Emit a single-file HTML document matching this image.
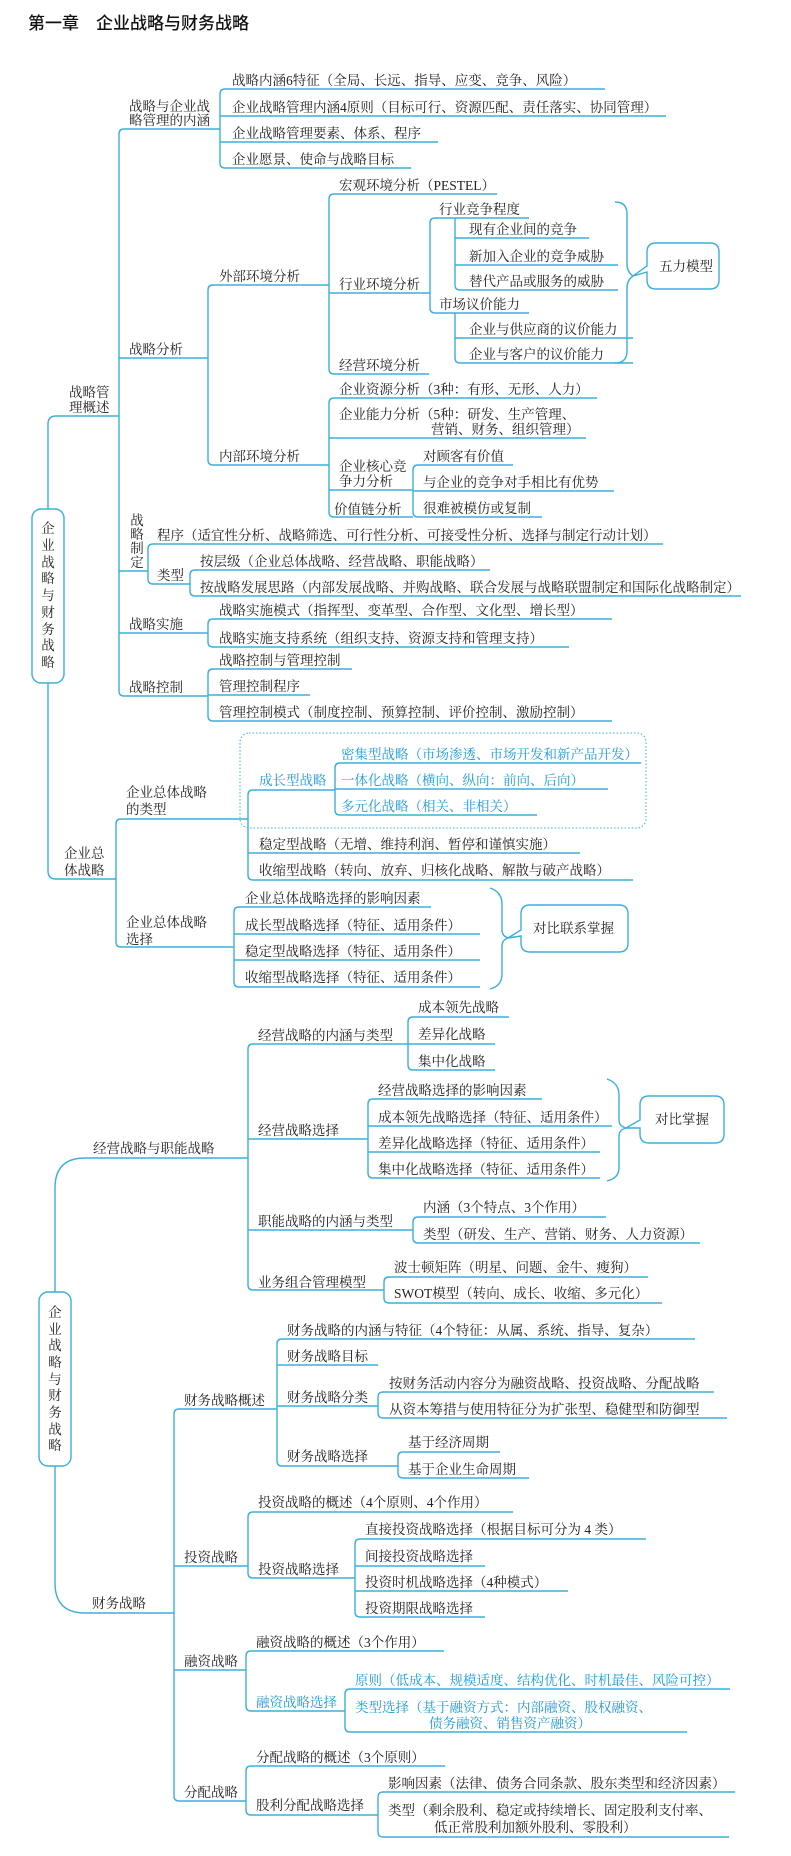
<!DOCTYPE html>
<html><head><meta charset="utf-8">
<style>
html,body{margin:0;padding:0;background:#fff;}
svg{display:block;}
text{font-family:"Liberation Serif","Noto Serif CJK SC",serif;font-size:13.5px;fill:#222;}
.b{fill:#1c9ad6;}
.t{font-family:"Liberation Sans","Noto Sans CJK SC",sans-serif;font-size:17px;font-weight:500;fill:#111;}
path,line{stroke:#3bb0da;stroke-width:1.4;fill:none;}
</style></head><body>
<svg width="791" height="1856" viewBox="0 0 791 1856" xmlns="http://www.w3.org/2000/svg">
<text class="t" x="28" y="29">第一章　企业战略与财务战略</text>

<!-- Root box 1 -->
<rect x="32" y="509" width="32" height="174" rx="9" fill="none" stroke="#3bb0da" stroke-width="1.4"/>
<g text-anchor="middle">
<text x="48" y="533">企</text><text x="48" y="550">业</text><text x="48" y="567">战</text><text x="48" y="583">略</text><text x="48" y="600">与</text><text x="48" y="617">财</text><text x="48" y="634">务</text><text x="48" y="650">战</text><text x="48" y="667">略</text>
</g>
<path d="M48,509 V424 Q48,416 56,416 H119"/>
<path d="M48,683 V871 Q48,879 56,879 H116"/>
<text x="69" y="397">战略管</text><text x="69" y="412">理概述</text>

<!-- main bracket B -->
<path d="M124,129 Q119,129 119,134 V691 Q119,696 124,696"/>
<line x1="119" y1="358" x2="208" y2="358"/><line x1="119" y1="571" x2="148" y2="571"/><line x1="119" y1="633" x2="208" y2="633"/>
<line x1="124" y1="129" x2="220" y2="129"/><line x1="124" y1="696" x2="208" y2="696"/>
<text x="129" y="111">战略与企业战</text><text x="129" y="125">略管理的内涵</text>

<!-- A -->
<path d="M225,89 Q220,89 220,94 V163 Q220,168 225,168"/>
<line x1="225" y1="89" x2="605" y2="89"/><line x1="220" y1="116" x2="666" y2="116"/><line x1="220" y1="142" x2="438" y2="142"/><line x1="225" y1="168" x2="411" y2="168"/>
<text x="232" y="85">战略内涵6特征（全局、长远、指导、应变、竞争、风险）</text>
<text x="232" y="112">企业战略管理内涵4原则（目标可行、资源匹配、责任落实、协同管理）</text>
<text x="232" y="138">企业战略管理要素、体系、程序</text>
<text x="232" y="164">企业愿景、使命与战略目标</text>

<!-- 战略分析 -->
<text x="129" y="354">战略分析</text>
<path d="M213,285 Q208,285 208,290 V460 Q208,465 213,465"/>
<line x1="213" y1="285" x2="329" y2="285"/><line x1="213" y1="465" x2="329" y2="465"/>
<text x="219" y="281">外部环境分析</text>
<text x="219" y="461">内部环境分析</text>

<!-- D -->
<path d="M334,194 Q329,194 329,199 V369 Q329,374 334,374"/>
<line x1="334" y1="194" x2="497" y2="194"/><line x1="329" y1="293" x2="430" y2="293"/><line x1="334" y1="374" x2="429" y2="374"/>
<text x="339" y="190">宏观环境分析（PESTEL）</text>
<text x="339" y="289">行业环境分析</text>
<text x="339" y="370">经营环境分析</text>

<!-- E -->
<path d="M435,218 Q430,218 430,223 V308 Q430,313 435,313"/>
<line x1="435" y1="218" x2="529" y2="218"/><line x1="435" y1="313" x2="529" y2="313"/>
<text x="439" y="214">行业竞争程度</text>
<text x="439" y="309">市场议价能力</text>
<path d="M455,218 V285 Q455,290 460,290"/>
<path d="M455,238 Q455,238 455,238"/>
<line x1="455" y1="238" x2="589" y2="238"/><line x1="455" y1="265" x2="618" y2="265"/><line x1="460" y1="290" x2="618" y2="290"/>
<text x="469" y="234">现有企业间的竞争</text>
<text x="469" y="261">新加入企业的竞争威胁</text>
<text x="469" y="286">替代产品或服务的威胁</text>
<path d="M455,313 V358 Q455,363 460,363"/>
<line x1="455" y1="338" x2="633" y2="338"/><line x1="460" y1="363" x2="633" y2="363"/>
<text x="469" y="334">企业与供应商的议价能力</text>
<text x="469" y="359">企业与客户的议价能力</text>
<!-- brace 1 -->
<path d="M615,202 Q627,202 627,214 V264 Q627,272 633,276 Q627,280 627,288 V351 Q627,363 615,363"/>
<path d="M633,276 L647,266 V252 Q647,243 656,243 H710 Q719,243 719,252 V280 Q719,289 710,289 H656 Q647,289 647,280 V272 Z"/>
<text x="659" y="271">五力模型</text>

<!-- G -->
<path d="M334,398 Q329,398 329,403 V512 Q329,517 334,517"/>
<line x1="334" y1="398" x2="597" y2="398"/><line x1="329" y1="438" x2="586" y2="438"/><line x1="329" y1="490" x2="413" y2="490"/><line x1="334" y1="517" x2="413" y2="517"/>
<text x="339" y="394">企业资源分析（3种：有形、无形、人力）</text>
<text x="339" y="419">企业能力分析（5种：研发、生产管理、</text>
<text x="431" y="434">营销、财务、组织管理）</text>
<text x="339" y="471">企业核心竞</text><text x="339" y="486">争力分析</text>
<text x="334" y="514">价值链分析</text>
<path d="M418,465 Q413,465 413,470 V512 Q413,517 418,517"/>
<line x1="418" y1="465" x2="513" y2="465"/><line x1="413" y1="491" x2="614" y2="491"/><line x1="418" y1="517" x2="542" y2="517"/>
<text x="423" y="461">对顾客有价值</text>
<text x="423" y="487">与企业的竞争对手相比有优势</text>
<text x="423" y="513">很难被模仿或复制</text>

<!-- 战略制定 -->
<g text-anchor="middle"><text x="137" y="525">战</text><text x="137" y="539">略</text><text x="137" y="553">制</text><text x="137" y="567">定</text></g>
<path d="M153,544 Q148,544 148,549 V579 Q148,584 153,584"/>
<line x1="153" y1="544" x2="663" y2="544"/><line x1="153" y1="584" x2="190" y2="584"/>
<text x="157" y="540">程序（适宜性分析、战略筛选、可行性分析、可接受性分析、选择与制定行动计划）</text>
<text x="157" y="580">类型</text>
<path d="M195,570 Q190,570 190,575 V591 Q190,596 195,596"/>
<line x1="195" y1="570" x2="490" y2="570"/><line x1="195" y1="596" x2="741" y2="596"/>
<text x="200" y="566">按层级（企业总体战略、经营战略、职能战略）</text>
<text x="200" y="592">按战略发展思路（内部发展战略、并购战略、联合发展与战略联盟制定和国际化战略制定）</text>

<!-- 战略实施 -->
<text x="129" y="629">战略实施</text>
<path d="M213,619 Q208,619 208,624 V642 Q208,647 213,647"/>
<line x1="213" y1="619" x2="612" y2="619"/><line x1="213" y1="647" x2="569" y2="647"/>
<text x="219" y="615">战略实施模式（指挥型、变革型、合作型、文化型、增长型）</text>
<text x="219" y="643">战略实施支持系统（组织支持、资源支持和管理支持）</text>

<!-- 战略控制 -->
<text x="129" y="692">战略控制</text>
<path d="M213,669 Q208,669 208,674 V716 Q208,721 213,721"/>
<line x1="213" y1="669" x2="352" y2="669"/><line x1="208" y1="695" x2="310" y2="695"/><line x1="213" y1="721" x2="612" y2="721"/>
<text x="219" y="665">战略控制与管理控制</text>
<text x="219" y="691">管理控制程序</text>
<text x="219" y="717">管理控制模式（制度控制、预算控制、评价控制、激励控制）</text>

<!-- 企业总体战略 -->
<text x="64" y="858">企业总</text><text x="64" y="875">体战略</text>
<path d="M121,819 Q116,819 116,824 V942 Q116,947 121,947"/>
<line x1="121" y1="819" x2="248" y2="819"/><line x1="121" y1="947" x2="234" y2="947"/>
<text x="126" y="797">企业总体战略</text><text x="126" y="814">的类型</text>
<text x="126" y="927">企业总体战略</text><text x="126" y="944">选择</text>
<rect x="240" y="733" width="406" height="95" rx="9" fill="none" stroke="#3bb0da" stroke-width="1" stroke-dasharray="1.5,2"/>
<path d="M253,790 Q248,790 248,795 V875 Q248,880 253,880"/>
<line x1="253" y1="790" x2="335" y2="790"/><line x1="248" y1="853" x2="580" y2="853"/><line x1="253" y1="880" x2="633" y2="880"/>
<text class="b" x="259" y="785">成长型战略</text>
<text x="259" y="849">稳定型战略（无增、维持利润、暂停和谨慎实施）</text>
<text x="259" y="875">收缩型战略（转向、放弃、归核化战略、解散与破产战略）</text>
<path d="M340,763 Q335,763 335,768 V810 Q335,815 340,815"/>
<line x1="340" y1="763" x2="641" y2="763"/><line x1="335" y1="789" x2="608" y2="789"/><line x1="340" y1="815" x2="537" y2="815"/>
<text class="b" x="341" y="759">密集型战略（市场渗透、市场开发和新产品开发）</text>
<text class="b" x="341" y="785">一体化战略（横向、纵向：前向、后向）</text>
<text class="b" x="341" y="811">多元化战略（相关、非相关）</text>
<path d="M239,907 Q234,907 234,912 V982 Q234,987 239,987"/>
<line x1="239" y1="907" x2="431" y2="907"/><line x1="234" y1="934" x2="480" y2="934"/><line x1="234" y1="960" x2="480" y2="960"/><line x1="239" y1="987" x2="480" y2="987"/>
<text x="245" y="903">企业总体战略选择的影响因素</text>
<text x="245" y="930">成长型战略选择（特征、适用条件）</text>
<text x="245" y="956">稳定型战略选择（特征、适用条件）</text>
<text x="245" y="982">收缩型战略选择（特征、适用条件）</text>
<path d="M490,888 Q502,892 502,904 V930 Q502,936 508,938 Q502,940 502,946 V974 Q502,986 490,989"/>
<path d="M508,938 L521,930 V914 Q521,905 530,905 H619 Q628,905 628,914 V943 Q628,952 619,952 H530 Q521,952 521,943 V936 Z"/>
<text x="533" y="933">对比联系掌握</text>

<!-- Root box 2 -->
<rect x="39" y="1292" width="32" height="174" rx="9" fill="none" stroke="#3bb0da" stroke-width="1.4"/>
<g text-anchor="middle">
<text x="55" y="1317">企</text><text x="55" y="1334">业</text><text x="55" y="1350">战</text><text x="55" y="1367">略</text><text x="55" y="1384">与</text><text x="55" y="1400">财</text><text x="55" y="1417">务</text><text x="55" y="1434">战</text><text x="55" y="1450">略</text>
</g>
<path d="M55,1292 V1188 Q55,1158 85,1158 H248"/>
<path d="M55,1466 V1583 Q55,1613 85,1613 H174"/>
<text x="93" y="1153">经营战略与职能战略</text>
<text x="92" y="1608">财务战略</text>

<!-- Q -->
<path d="M253,1044 Q248,1044 248,1049 V1285 Q248,1290 253,1290"/>
<line x1="253" y1="1044" x2="408" y2="1044"/><line x1="248" y1="1139" x2="368" y2="1139"/><line x1="248" y1="1230" x2="413" y2="1230"/><line x1="253" y1="1290" x2="384" y2="1290"/>
<text x="258" y="1040">经营战略的内涵与类型</text>
<text x="258" y="1135">经营战略选择</text>
<text x="258" y="1226">职能战略的内涵与类型</text>
<text x="258" y="1287">业务组合管理模型</text>
<path d="M413,1017 Q408,1017 408,1022 V1065 Q408,1070 413,1070"/>
<line x1="413" y1="1017" x2="509" y2="1017"/><line x1="408" y1="1044" x2="495" y2="1044"/><line x1="413" y1="1070" x2="495" y2="1070"/>
<text x="418" y="1012">成本领先战略</text>
<text x="418" y="1039">差异化战略</text>
<text x="418" y="1066">集中化战略</text>
<path d="M373,1099 Q368,1099 368,1104 V1173 Q368,1178 373,1178"/>
<line x1="373" y1="1099" x2="542" y2="1099"/><line x1="368" y1="1126" x2="612" y2="1126"/><line x1="368" y1="1152" x2="600" y2="1152"/><line x1="373" y1="1178" x2="600" y2="1178"/>
<text x="378" y="1095">经营战略选择的影响因素</text>
<text x="378" y="1122">成本领先战略选择（特征、适用条件）</text>
<text x="378" y="1148">差异化战略选择（特征、适用条件）</text>
<text x="378" y="1174">集中化战略选择（特征、适用条件）</text>
<path d="M607,1079 Q619,1083 619,1095 V1120 Q619,1126 626,1128 Q619,1130 619,1136 V1168 Q619,1178 607,1181"/>
<path d="M626,1128 L640,1120 V1105 Q640,1096 649,1096 H715 Q724,1096 724,1105 V1134 Q724,1143 715,1143 H649 Q640,1143 640,1134 V1128 Z"/>
<text x="655" y="1124">对比掌握</text>
<path d="M418,1217 Q413,1217 413,1222 V1238 Q413,1243 418,1243"/>
<line x1="418" y1="1217" x2="606" y2="1217"/><line x1="418" y1="1243" x2="700" y2="1243"/>
<text x="423" y="1212">内涵（3个特点、3个作用）</text>
<text x="423" y="1239">类型（研发、生产、营销、财务、人力资源）</text>
<path d="M389,1277 Q384,1277 384,1282 V1298 Q384,1303 389,1303"/>
<line x1="389" y1="1277" x2="648" y2="1277"/><line x1="389" y1="1303" x2="662" y2="1303"/>
<text x="394" y="1272">波士顿矩阵（明星、问题、金牛、瘦狗）</text>
<text x="394" y="1298">SWOT模型（转向、成长、收缩、多元化）</text>

<!-- V -->
<path d="M179,1409 Q174,1409 174,1414 V1796 Q174,1801 179,1801"/>
<line x1="179" y1="1409" x2="277" y2="1409"/><line x1="174" y1="1566" x2="248" y2="1566"/><line x1="174" y1="1670" x2="246" y2="1670"/><line x1="179" y1="1801" x2="246" y2="1801"/>
<text x="184" y="1405">财务战略概述</text>
<text x="184" y="1562">投资战略</text>
<text x="184" y="1666">融资战略</text>
<text x="184" y="1797">分配战略</text>
<path d="M282,1339 Q277,1339 277,1344 V1461 Q277,1466 282,1466"/>
<line x1="282" y1="1339" x2="695" y2="1339"/><line x1="277" y1="1365" x2="378" y2="1365"/><line x1="277" y1="1406" x2="378" y2="1406"/><line x1="282" y1="1466" x2="398" y2="1466"/>
<text x="287" y="1335">财务战略的内涵与特征（4个特征：从属、系统、指导、复杂）</text>
<text x="287" y="1361">财务战略目标</text>
<text x="287" y="1402">财务战略分类</text>
<text x="287" y="1461">财务战略选择</text>
<path d="M383,1392 Q378,1392 378,1397 V1413 Q378,1418 383,1418"/>
<line x1="383" y1="1392" x2="714" y2="1392"/><line x1="383" y1="1418" x2="727" y2="1418"/>
<text x="389" y="1388">按财务活动内容分为融资战略、投资战略、分配战略</text>
<text x="389" y="1414">从资本筹措与使用特征分为扩张型、稳健型和防御型</text>
<path d="M403,1452 Q398,1452 398,1457 V1473 Q398,1478 403,1478"/>
<line x1="403" y1="1452" x2="500" y2="1452"/><line x1="403" y1="1478" x2="529" y2="1478"/>
<text x="408" y="1447">基于经济周期</text>
<text x="408" y="1474">基于企业生命周期</text>
<path d="M253,1512 Q248,1512 248,1517 V1573 Q248,1578 253,1578"/>
<line x1="253" y1="1512" x2="513" y2="1512"/><line x1="253" y1="1578" x2="355" y2="1578"/>
<text x="258" y="1507">投资战略的概述（4个原则、4个作用）</text>
<text x="258" y="1574">投资战略选择</text>
<path d="M360,1539 Q355,1539 355,1544 V1612 Q355,1617 360,1617"/>
<line x1="360" y1="1539" x2="646" y2="1539"/><line x1="355" y1="1566" x2="485" y2="1566"/><line x1="355" y1="1591" x2="568" y2="1591"/><line x1="360" y1="1617" x2="485" y2="1617"/>
<text x="365" y="1534">直接投资战略选择（根据目标可分为 4 类）</text>
<text x="365" y="1561">间接投资战略选择</text>
<text x="365" y="1587">投资时机战略选择（4种模式）</text>
<text x="365" y="1613">投资期限战略选择</text>
<path d="M251,1651 Q246,1651 246,1656 V1706 Q246,1711 251,1711"/>
<line x1="251" y1="1651" x2="444" y2="1651"/><line x1="251" y1="1711" x2="345" y2="1711"/>
<text x="256" y="1647">融资战略的概述（3个作用）</text>
<text class="b" x="256" y="1707">融资战略选择</text>
<path d="M350,1689 Q345,1689 345,1694 V1727 Q345,1732 350,1732"/>
<line x1="350" y1="1689" x2="730" y2="1689"/><line x1="350" y1="1732" x2="687" y2="1732"/>
<text class="b" x="355" y="1685">原则（低成本、规模适度、结构优化、时机最佳、风险可控）</text>
<text class="b" x="355" y="1712">类型选择（基于融资方式：内部融资、股权融资、</text>
<text class="b" x="429" y="1728">债务融资、销售资产融资）</text>
<path d="M251,1766 Q246,1766 246,1771 V1810 Q246,1815 251,1815"/>
<line x1="251" y1="1766" x2="445" y2="1766"/><line x1="251" y1="1815" x2="378" y2="1815"/>
<text x="256" y="1762">分配战略的概述（3个原则）</text>
<text x="256" y="1810">股利分配战略选择</text>
<path d="M383,1792 Q378,1792 378,1797 V1832 Q378,1837 383,1837"/>
<line x1="383" y1="1792" x2="735" y2="1792"/><line x1="383" y1="1837" x2="729" y2="1837"/>
<text x="388" y="1788">影响因素（法律、债务合同条款、股东类型和经济因素）</text>
<text x="388" y="1815">类型（剩余股利、稳定或持续增长、固定股利支付率、</text>
<text x="434" y="1832">低正常股利加额外股利、零股利）</text>
</svg>
</body></html>
